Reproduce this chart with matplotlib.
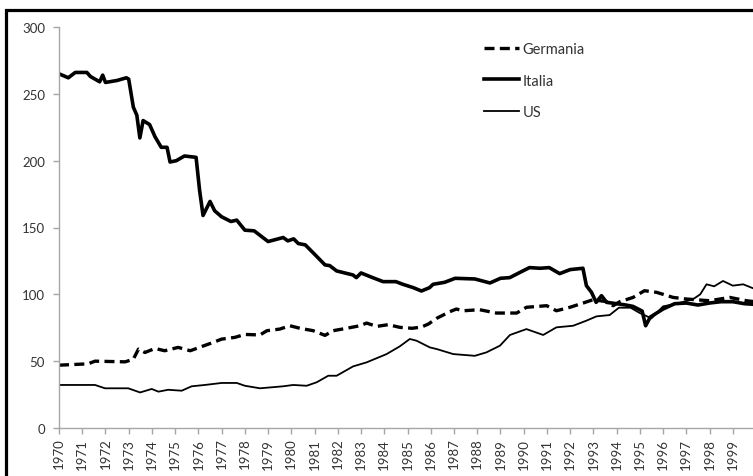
import matplotlib
matplotlib.use("Agg")
import matplotlib.pyplot as plt
from matplotlib.patches import Rectangle

plt.rcParams['font.family'] = ['Lato', 'DejaVu Sans']

# Italia
italia_t = [1970.0, 1970.4, 1970.7, 1971.2, 1971.35, 1971.75, 1971.88, 1972.0, 1972.5, 1972.9,
            1973.0, 1973.2, 1973.35, 1973.48, 1973.62, 1973.9, 1974.13, 1974.4, 1974.65, 1974.78,
            1975.05, 1975.4, 1975.9, 1976.05, 1976.2, 1976.5, 1976.7, 1977.0, 1977.4, 1977.65,
            1978.0, 1978.4, 1979.0, 1979.65, 1979.85, 1980.1, 1980.3, 1980.6, 1981.0, 1981.45,
            1981.65, 1981.95, 1982.65, 1982.8, 1983.0, 1983.5, 1983.95, 1984.5, 1984.8, 1985.25,
            1985.6, 1985.95, 1986.1, 1986.6, 1987.05, 1987.9, 1988.55, 1989.0, 1989.4, 1989.85,
            1990.25, 1990.7, 1991.1, 1991.55, 1992.0, 1992.55, 1992.7, 1992.92, 1993.12, 1993.35,
            1993.57, 1994.0, 1994.4, 1994.7, 1995.1, 1995.25, 1995.45, 1996.0, 1996.5, 1997.0,
            1997.5, 1998.0, 1998.5, 1999.0, 1999.5, 1999.95]
italia_v = [265, 262, 266, 266, 263, 259, 264, 258.5, 260, 262,
            261, 240, 234, 217, 230, 227, 218, 210, 210, 199,
            200, 203.5, 202.5, 178, 159, 169.5, 162.5, 158, 154.5, 155.5,
            148, 147.5, 139.5, 142.5, 140, 141.5, 138, 137, 130, 122,
            121.5, 117.5, 114.5, 112.5, 116, 112.5, 109.5, 109.5, 107.5, 105,
            102.5, 105, 107.5, 109, 112, 111.5, 108.5, 112, 112.5, 116.5,
            120, 119.5, 120, 115.5, 118.5, 119.5, 106.5, 101.5, 94, 99,
            94, 93, 92, 91, 87.5, 76.5, 83, 89, 93, 93.5,
            92, 93.5, 94.5, 94.5, 93, 92.5]

# Germania
germania_t = [1970.0, 1971.25, 1971.55, 1972.85, 1973.2, 1973.42, 1973.7, 1974.13, 1974.55, 1975.13,
              1975.65, 1976.15, 1976.57, 1977.0, 1977.57, 1978.0, 1978.65, 1978.95, 1979.5, 1979.94,
              1980.37, 1980.94, 1981.45, 1981.8, 1982.38, 1982.95, 1983.24, 1983.67, 1984.17, 1984.67,
              1985.2, 1985.6, 1985.9, 1986.25, 1986.82, 1987.1, 1987.4, 1988.1, 1988.83, 1989.7,
              1990.12, 1990.99, 1991.41, 1991.99, 1992.56, 1992.99, 1993.57, 1993.85, 1994.14, 1994.71,
              1995.2, 1995.72, 1996.43, 1997.0, 1998.0, 1998.87, 1999.59, 1999.95]
germania_v = [47, 48, 50, 49.5, 51.5, 59, 56.5, 59.5, 57.8, 60.3,
              57.8, 61, 63.6, 66.5, 67.8, 70, 69.6, 72.8, 74, 76.5,
              74.6, 72.8, 69.3, 72.8, 74.6, 76.5, 78.5, 76, 77.3, 75.3,
              74.6, 75.5, 77.8, 82, 87, 89, 87.7, 88.5, 86, 86,
              90.3, 91.5, 87.7, 90.3, 93.5, 96, 94.5, 91.5, 94.5, 97.7,
              102.7, 101.5, 97.7, 96.5, 95.2, 97.7, 95.2, 94.5]

# US
us_t = [1970.0, 1971.55, 1971.98, 1972.98, 1973.49, 1973.99, 1974.28, 1974.7, 1975.28, 1975.71,
        1976.28, 1977.0, 1977.65, 1978.0, 1978.65, 1979.65, 1980.08, 1980.66, 1981.09, 1981.59,
        1981.95, 1982.66, 1983.24, 1984.1, 1984.67, 1985.1, 1985.39, 1985.96, 1986.25, 1986.97,
        1987.9, 1988.4, 1988.98, 1989.41, 1990.12, 1990.84, 1991.41, 1992.13, 1992.7, 1993.13,
        1993.7, 1994.1, 1994.6, 1995.0, 1995.5, 1996.0, 1996.6, 1997.3, 1997.6, 1997.87,
        1998.2, 1998.58, 1999.0, 1999.45, 1999.95]
us_v = [32.2, 32.2, 29.7, 29.7, 26.6, 29.2, 27.2, 28.6, 27.9, 31.2,
        32.2, 33.7, 33.7, 31.6, 29.7, 31.2, 32.2, 31.6, 34.2, 39.1,
        39.1, 46.1, 49.1, 55.3, 61.1, 66.6, 65.3, 60.3, 59.1, 55.3,
        54, 56.6, 61.6, 69.6, 74, 69.6, 75.3, 76.5, 80.3, 83.5,
        84.5, 90, 90, 86, 82, 91, 93, 96.5, 100, 107.5,
        106, 110, 106.5, 107.5, 104]

years = list(range(1970, 2000))
yticks = [0, 50, 100, 150, 200, 250, 300]

W, H = 753, 477
fig = plt.figure(figsize=(W / 100, H / 100), dpi=100)
ax = fig.add_axes([59 / W, 1 - 429 / H, 697 / W, 401 / H])

ax.plot(germania_t, germania_v, color='black', lw=2.4, ls=(0, (3, 1.6)), label='Germania')
ax.plot(italia_t, italia_v, color='black', lw=2.6, label='Italia')
ax.plot(us_t, us_v, color='black', lw=1.3, label='US')

ax.set_xlim(1970, 2000)
ax.set_ylim(0, 300)
ax.set_xticks(years)
ax.set_xticklabels([str(y) for y in years], rotation=90)
ax.set_yticks(yticks)

for s in ['top', 'right']:
    ax.spines[s].set_visible(False)
for s in ['left', 'bottom']:
    ax.spines[s].set_color('#a6a6a6')
    ax.spines[s].set_linewidth(1.0)
ax.tick_params(axis='both', colors='#a6a6a6', labelcolor='#333333', labelsize=9.5, length=4, width=1)
ax.tick_params(axis='y', pad=6)
ax.tick_params(axis='x', pad=3)

leg = ax.legend(loc='upper left', bbox_to_anchor=(484 / W, 1 - 43 / H), bbox_transform=fig.transFigure,
                frameon=False, fontsize=10.5, handlelength=2.4, handletextpad=0.25,
                labelspacing=1.2, borderpad=0, borderaxespad=0)
for t in leg.get_texts():
    t.set_color('#333333')

# thick border around the chart (cut off at right and bottom)
fig.patches.append(Rectangle((6.5 / W, -0.2), 1.2, 1 - 10.5 / H + 0.2, transform=fig.transFigure,
                             fill=False, edgecolor='black', lw=2.3))

fig.savefig('out.png', dpi=100)
